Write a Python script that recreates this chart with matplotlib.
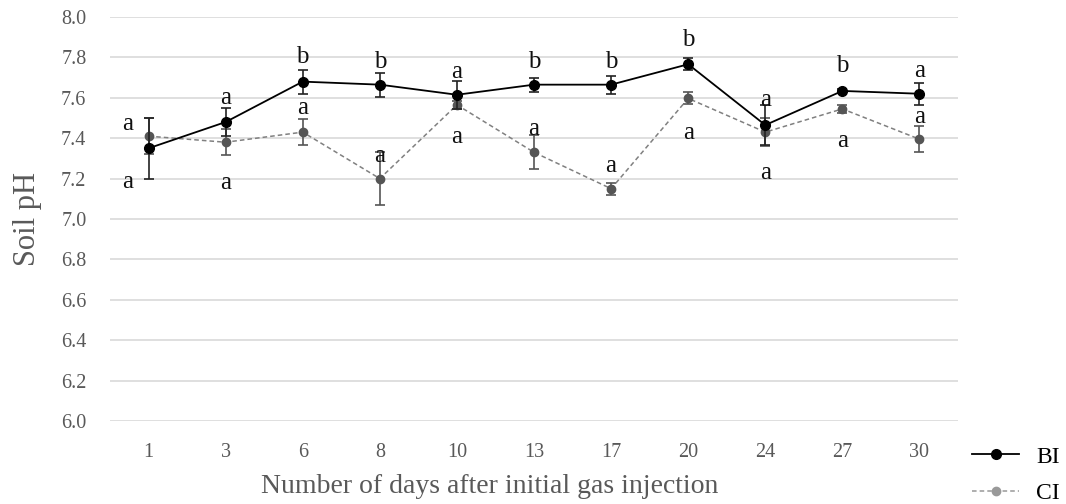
import numpy as np
import matplotlib.pyplot as plt
from matplotlib.lines import Line2D

# days after gas injection (categorical x axis)
days = ['1', '3', '6', '8', '10', '13', '17', '20', '24', '27', '30']

# soil pH means and error bars
bi_ph = [7.35, 7.48, 7.68, 7.665, 7.615, 7.665, 7.665, 7.766, 7.465, 7.634, 7.62]
bi_err = [0.15, 0.07, 0.06, 0.06, 0.07, 0.035, 0.045, 0.03, 0.10, 0.01, 0.055]
ci_ph = [7.41, 7.38, 7.43, 7.20, 7.565, 7.33, 7.15, 7.597, 7.43, 7.545, 7.395]
ci_err = [0.09, 0.065, 0.065, 0.13, 0.02, 0.085, 0.03, 0.03, 0.07, 0.02, 0.063]

# significance letters (upper and lower) and where they sit
top_letters = ['a', 'a', 'b', 'b', 'a', 'b', 'b', 'b', 'a', 'b', 'a']
top_y = [7.47, 7.60, 7.80, 7.777, 7.728, 7.777, 7.777, 7.886, 7.589, 7.757, 7.733]
low_letters = ['a'] * 11
low_y = [7.183, 7.178, 7.55, 7.312, 7.406, 7.446, 7.262, 7.426, 7.228, 7.386, 7.505]

serif = 'Liberation Serif'

fig = plt.figure(figsize=(10.66, 5.04), dpi=100)
ax = fig.add_axes([0.1032, 0.1647, 0.7955, 0.8016])

x = np.arange(len(days))

ax.errorbar(x, bi_ph, yerr=bi_err, color='black', lw=1.3, marker='o', ms=7,
            ecolor='#222222', elinewidth=1.2, capsize=3.5, capthick=1.2, zorder=4)
ax.errorbar(x, ci_ph, yerr=ci_err, color='#808080', lw=1.1, ls=(0, (3, 2)), marker='o', ms=6,
            mfc='#555555', mec='#555555', ecolor='#555555', elinewidth=1.2, capsize=3.5,
            capthick=1.2, zorder=3)

# letters: first point has them shifted left
for i in range(len(days)):
    dx = -0.27 if i == 0 else 0
    ax.text(x[i] + dx, top_y[i], top_letters[i], ha='center', va='center',
            fontsize=18, family=serif, color='#111111', zorder=5)
    ax.text(x[i] + dx, low_y[i], low_letters[i], ha='center', va='center',
            fontsize=18, family=serif, color='#111111', zorder=5)

ax.set_xlim(-0.5, len(days) - 0.5)
ax.set_ylim(6.0, 8.0)
ax.set_yticks(np.arange(6.0, 8.01, 0.2))
ax.set_yticklabels([f'{v:.1f}' for v in np.arange(6.0, 8.01, 0.2)])
ax.set_xticks(x)
ax.set_xticklabels(days)
ax.grid(axis='y', color='#d9d9d9', lw=1.2)
ax.set_axisbelow(True)
for s in ax.spines.values():
    s.set_visible(False)
ax.tick_params(length=0, labelsize=14.5, labelcolor='#595959')
ax.tick_params(axis='y', pad=17)
ax.tick_params(axis='x', pad=16)
for lab in ax.get_xticklabels() + ax.get_yticklabels():
    lab.set_family(serif)

ax.set_ylabel('Soil pH', fontsize=22, family=serif, color='#595959', labelpad=14)
ax.set_xlabel('Number of days after initial gas injection', fontsize=20, family=serif,
              color='#595959')
ax.xaxis.set_label_coords(0.448, -0.132)

handles = [
    Line2D([], [], color='black', lw=1.3, marker='o', ms=7),
    Line2D([], [], color='#999999', lw=1.1, ls=(0, (3, 2)), marker='o', ms=6,
           mfc='#999999', mec='#999999'),
]
fig.legend(handles, ['BI', 'CI'], loc='upper left', bbox_to_anchor=(0.912, 0.115),
           frameon=False, prop={'family': serif, 'size': 17}, handlelength=2.0,
           labelspacing=0.65, handletextpad=0.7, borderaxespad=0, borderpad=0)

fig.savefig('out.png', dpi=100)
